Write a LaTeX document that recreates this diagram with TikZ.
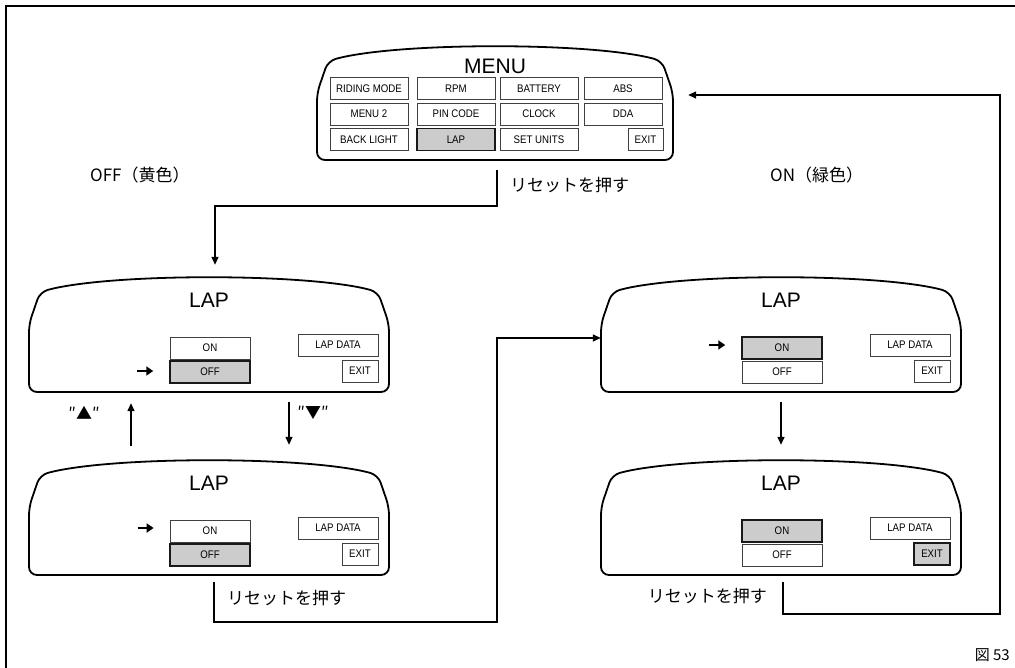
\documentclass[tikz,border=0pt]{standalone}
\usepackage{fontspec}
\setmainfont{Liberation Sans}
\newfontfamily\keyfont[FakeStretch=0.88]{Liberation Sans}
\newfontfamily\jpfont{Noto Sans CJK JP}
\usetikzlibrary{arrows.meta,positioning}

% display outline: name, centre x, top y, half width, bottom y
\newcommand{\display}[5]{%
  \draw[outline] (#2,#5) -- ({#2-#4},#5) -- ({#2-#4},{#3+46}) -- ({#2-#4+11},{#3+14})
    .. controls ({#2-#4*0.55},{#3-5}) and ({#2+#4*0.55},{#3-5}) .. ({#2+#4-11},{#3+14})
    -- ({#2+#4},{#3+46}) -- ({#2+#4},#5) -- cycle;
  \node[inner sep=0pt, minimum width={2*#4}, minimum height={#5-#3}] (#1) at (#2,{(#3+#5)/2}) {};
}

\begin{document}
\begin{tikzpicture}[
    x=1pt, y=-1pt,
    outline/.style={line width=1.8pt, rounded corners=8pt},
    key/.style={
        draw=black!75,
        line width=0.7pt,
        inner sep=0pt,
        minimum height=22pt,
        font=\keyfont\fontsize{11}{11}\selectfont
    },
    chosen/.style={key, fill=black!20, draw=black!90, line width=1.5pt},
    title/.style={inner sep=0pt, font=\fontsize{21}{21}\selectfont},
    jp/.style={inner sep=0pt, font=\jpfont\fontsize{17}{17}\selectfont},
    flow/.style={line width=1.4pt, -{Triangle[length=8pt,width=7pt]}},
    pointer/.style={line width=2.4pt, -{Triangle[length=7pt,width=9pt]}}
]
\useasboundingbox (0,0) rectangle (1015,668);

% Frame
\draw[line width=1.5pt] (1015,6) -- (6,6) -- (6,668);

% Menu display
\display{menu}{495}{47}{178}{160}
\node[title] (menutitle) at (495,66) {MENU};
\node[key, minimum width=78] (riding) at (369,88.5) {RIDING MODE};
\node[key, minimum width=78] (rpm) at (456,88.5) {RPM};
\node[key, minimum width=78] (battery) at (539,88.5) {BATTERY};
\node[key, minimum width=78] (abs) at (623,88.5) {ABS};
\node[key, minimum width=78] (menutwo) at (369,114) {MENU 2};
\node[key, minimum width=78] (pincode) at (456,114) {PIN CODE};
\node[key, minimum width=78] (clock) at (539,114) {CLOCK};
\node[key, minimum width=78] (dda) at (623,114) {DDA};
\node[key, minimum width=78] (backlight) at (369,139.5) {BACK LIGHT};
\node[chosen, minimum width=78] (lapitem) at (456,139.5) {LAP};
\node[key, minimum width=78] (units) at (539,139.5) {SET UNITS};
\node[key, minimum width=35] (menuexit) at (645.5,139.5) {EXIT};

% Labels
\node[jp, anchor=west] (offlabel) at (90,175) {OFF（黄色）};
\node[jp, anchor=west] (onlabel) at (770,175) {ON（緑色）};
\node[jp, anchor=west] (resetm) at (510,185) {リセットを押す};

% LAP display, OFF selected
\display{lapoff}{209}{278}{180}{392}
\node[title] (atitle) at (209,300) {LAP};
\node[key, minimum width=80] (aon) at (210,348) {ON};
\node[chosen, minimum width=80] (aoff) at (210,372) {OFF};
\node[key, minimum width=80] (adata) at (338,345) {LAP DATA};
\node[key, minimum width=36] (aexit) at (360,371) {EXIT};
\draw[pointer] ([xshift=-32pt,yshift=1pt]aoff.west) -- ([xshift=-16pt,yshift=1pt]aoff.west);

% LAP display, cursor on ON
\display{lapsel}{209}{461}{180}{575}
\node[title] (btitle) at (209,483) {LAP};
\node[key, minimum width=80] (bon) at (210,531) {ON};
\node[chosen, minimum width=80] (boff) at (210,555) {OFF};
\node[key, minimum width=80] (bdata) at (338,528) {LAP DATA};
\node[key, minimum width=36] (bexit) at (360,554) {EXIT};
\draw[pointer] ([xshift=-32pt,yshift=3pt]bon.west) -- ([xshift=-16pt,yshift=3pt]bon.west);

% LAP display, ON selected
\display{lapon}{781}{278}{180}{392}
\node[title] (ctitle) at (781,300) {LAP};
\node[chosen, minimum width=80] (con) at (782,348) {ON};
\node[key, minimum width=80] (coff) at (782,372) {OFF};
\node[key, minimum width=80] (cdata) at (910,345) {LAP DATA};
\node[key, minimum width=36] (cexit) at (932,371) {EXIT};
\draw[pointer] ([xshift=-32pt,yshift=3pt]con.west) -- ([xshift=-16pt,yshift=3pt]con.west);

% LAP display, EXIT selected
\display{lapexit}{781}{461}{180}{575}
\node[title] (dtitle) at (781,483) {LAP};
\node[chosen, minimum width=80] (don) at (782,531) {ON};
\node[key, minimum width=80] (doff) at (782,555) {OFF};
\node[key, minimum width=80] (ddata) at (910,528) {LAP DATA};
\node[chosen, minimum width=36] (dexit) at (932,554) {EXIT};

% Key labels
\node[jp, font=\jpfont\fontsize{16}{16}\selectfont] (upkey) at (84,413) {″▲″};
\node[jp, font=\jpfont\fontsize{16}{16}\selectfont] (downkey) at (313,413) {″▼″};

% Reset labels
\node[jp, anchor=west] (resetb) at (227,598) {リセットを押す};
\node[jp, anchor=east] (resetd) at (767,596) {リセットを押す};
\node[jp, anchor=east, font=\jpfont\fontsize{15}{15}\selectfont] (figno) at (1010,655) {図 53};

% Turning points
\coordinate (turnb) at (497,622);
\coordinate (turnd) at (1000,614);

% Connectors
\draw[flow] ([xshift=2pt,yshift=-10pt]menu.south) -- ++(0,36) -| ([xshift=6pt,yshift=13pt]lapoff.north);
\draw[flow] ([xshift=-78pt,yshift=15pt]lapsel.north) -- ([xshift=-78pt,yshift=-11pt]lapoff.south);
\draw[flow] ([xshift=80pt,yshift=-10pt]lapoff.south) -- ([xshift=80pt,yshift=16pt]lapsel.north);
\draw[flow] ([xshift=5pt,yshift=-7pt]lapsel.south) |- (turnb) |- ([yshift=-3pt]lapon.west);
\draw[flow] ([yshift=-10pt]lapon.south) -- ([yshift=16pt]lapexit.north);
\draw[flow] ([xshift=2pt,yshift=-7pt]lapexit.south) |- (turnd) |- ([xshift=15pt,yshift=8.5pt]menu.east);

\end{tikzpicture}
\end{document}
